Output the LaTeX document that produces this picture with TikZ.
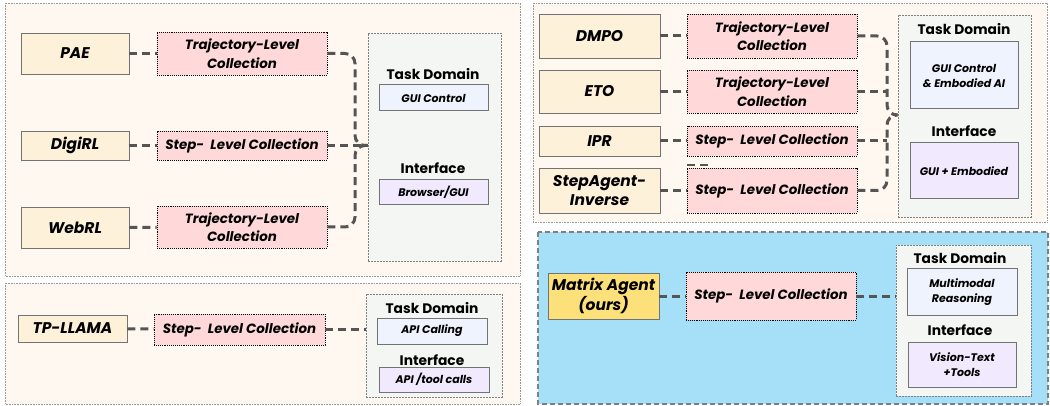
\documentclass[tikz,border=0pt]{standalone}
\usepackage{fontspec}
\setmainfont{Poppins}
\usetikzlibrary{calc}
\usetikzlibrary{positioning}

\definecolor{panelbg}{HTML}{FFF8F1}
\definecolor{modelbg}{HTML}{FDF1D9}
\definecolor{collbg}{HTML}{FFD9DA}
\definecolor{innerbg}{HTML}{F3F6F3}
\definecolor{taskbg}{HTML}{EEF3FD}
\definecolor{ifacebg}{HTML}{F1E9FE}
\definecolor{oursbg}{HTML}{A6E0F8}
\definecolor{oursbox}{HTML}{FCE07A}
\definecolor{linkgray}{HTML}{555555}

\begin{document}
\begin{tikzpicture}[x=1pt,y=-1pt,
  panel/.style={draw=gray!80, densely dotted, line width=0.6pt, fill=panelbg},
  model/.style={draw=gray!90!black, line width=0.9pt, fill=modelbg, inner sep=0pt, align=center,
    font=\fontsize{15.5}{19.5}\selectfont\bfseries\itshape},
  collect/.style={draw=black, densely dotted, line width=0.9pt, fill=collbg, inner sep=0pt, align=center,
    font=\fontsize{13.4}{18.5}\selectfont\bfseries\itshape},
  inner/.style={draw=gray, dashed, dash pattern=on 2pt off 1pt, line width=0.7pt, fill=innerbg,
    inner sep=0pt},
  head/.style={font=\fontsize{13.8}{16}\selectfont\bfseries, inner sep=0pt},
  tag/.style={draw=gray!90!black, line width=1pt, inner sep=0pt, align=center,
    font=\fontsize{11}{15}\selectfont\bfseries\itshape},
  link/.style={draw=linkgray, line width=3pt, dash pattern=on 8pt off 5pt, rounded corners=10pt},
]
\useasboundingbox (0,0) rectangle (1050,406);

% panels
\draw[panel] (5,3) rectangle (520,276);
\draw[panel] (533,3) rectangle (1047,222);
\draw[panel] (5,283) rectangle (520,404);
\draw[draw=gray, fill=oursbg, line width=1.5pt, dash pattern=on 5pt off 3pt] (538,232) rectangle (1048,404);

% top left
\node[model, minimum width=108, minimum height=41] (pae) at (75,53.5) {PAE};
\node[model, minimum width=108, minimum height=29] (digirl) at (75,145.5) {DigiRL};
\node[model, minimum width=108, minimum height=41] (webrl) at (75,227.5) {WebRL};
\node[collect, minimum width=170, minimum height=43] (c1) at (242,53.5) {Trajectory-Level\\Collection};
\node[collect, minimum width=170, minimum height=29] (c2) at (242,145.5) {Step-~~Level Collection};
\node[collect, minimum width=170, minimum height=42] (c3) at (242,227) {Trajectory-Level\\Collection};
\node[inner, minimum width=133, minimum height=228] (d1) at (434.5,147) {};
\node[head] (td1) at (433,74) {Task Domain};
\node[tag, fill=taskbg, minimum width=109, minimum height=26] (g1) at (433.5,98) {GUI Control};
\node[head] (if1) at (433,168) {Interface};
\node[tag, fill=ifacebg, minimum width=109, minimum height=25] (b1) at (433.5,192.5) {Browser/GUI};
\coordinate (j1) at (355,145.5);

\draw[link] (pae) -- (c1);
\draw[link] (digirl) -- (c2);
\draw[link] (webrl) -- (c3);
\draw[link] (c1.east) -| (j1) -- (j1 -| d1.west);
\draw[link] (c3.east) -| (j1) -- (j1 -| d1.west);
\draw[link] (c2.east) -- (c2.east -| d1.west);

% top right
\node[model, minimum width=121, minimum height=44] (dmpo) at (599.5,36) {DMPO};
\node[model, minimum width=121, minimum height=43] (eto) at (599.5,91.5) {ETO};
\node[model, minimum width=121, minimum height=30] (ipr) at (599.5,141) {IPR};
\node[model, minimum width=121, minimum height=45] (stepag) at (599.5,190.5) {StepAgent-\\Inverse};
\node[collect, minimum width=170, minimum height=44] (c4) at (772,36) {Trajectory-Level\\Collection};
\node[collect, minimum width=170, minimum height=43] (c5) at (772,91.5) {Trajectory-Level\\Collection};
\node[collect, minimum width=170, minimum height=30] (c6) at (772,141) {Step-~~Level Collection};
\node[collect, minimum width=170, minimum height=45] (c7) at (772,190.5) {Step-~~Level Collection};
\node[inner, minimum width=133, minimum height=202] (d2) at (964.5,116) {};
\node[head] (td2) at (964,29) {Task Domain};
\node[tag, fill=taskbg, minimum width=108, minimum height=67] (g2) at (964,75.5) {GUI Control\\\& Embodied AI};
\node[head] (if2) at (964,131) {Interface};
\node[tag, fill=ifacebg, minimum width=108, minimum height=56] (b2) at (964,171) {GUI + Embodied};
\coordinate (j2) at (887,115);

\draw[link] (dmpo) -- (c4);
\draw[link] (eto) -- (c5);
\draw[link] (ipr) -- (c6);
\draw[link] (stepag) -- (c7);
\draw[link] (c4.east) -| (j2) -- (j2 -| d2.west);
\draw[link] (c7.east) -| (j2) -- (j2 -| d2.west);
\draw[link] (c5.east) -- (c5.east -| j2);
\draw[link] (c6.east) -- (c6.east -| j2);
\draw[link, line width=2pt] (687,165) -- (708,165);

% bottom left
\node[model, minimum width=109, minimum height=27] (tpllama) at (72.5,328.5) {TP-LLAMA};
\node[collect, minimum width=171, minimum height=31] (c8) at (239.5,329.5) {Step-~~Level Collection};
\node[inner, minimum width=136, minimum height=103] (d3) at (434,345.5) {};
\node[head] (td3) at (432,308) {Task Domain};
\node[tag, fill=taskbg, minimum width=110, minimum height=26] (g3) at (432,331) {API Calling};
\node[head] (if3) at (432,360) {Interface};
\node[tag, fill=ifacebg, minimum width=110, minimum height=25] (b3) at (434,379.5) {API /tool calls};

\draw[link] (tpllama) -- (c8);
\draw[link] (c8.east) -- (c8.east -| d3.west);

% bottom right (ours)
\node[model, fill=oursbox, minimum width=111, minimum height=46] (matrix) at (603.5,296) {Matrix Agent\\(ours)};
\node[collect, minimum width=170, minimum height=48] (c9) at (771,296) {Step-~~Level Collection};
\node[inner, minimum width=135, minimum height=151] (d4) at (963.5,320.5) {};
\node[head] (td4) at (960,258) {Task Domain};
\node[tag, fill=taskbg, minimum width=110, minimum height=46] (g4) at (962,292) {Multimodal\\Reasoning};
\node[head] (if4) at (960,330) {Interface};
\node[tag, fill=ifacebg, minimum width=108, minimum height=45] (b4) at (962,364.5) {Vision-Text\\+Tools};

\draw[link] (matrix) -- (c9);
\draw[link] (c9.east) -- (c9.east -| d4.west);
\end{tikzpicture}
\end{document}
